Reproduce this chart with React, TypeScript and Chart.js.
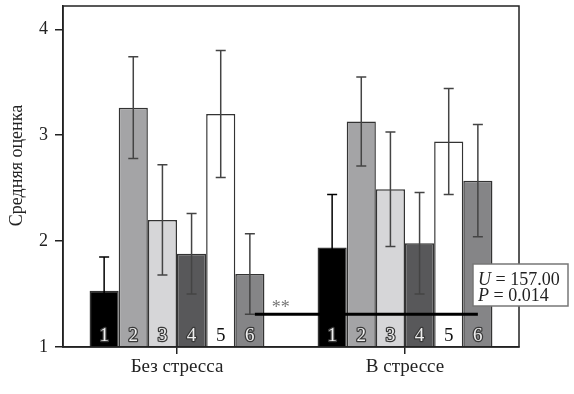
import React, { useEffect, useRef } from 'react';
import { Chart, registerables } from 'chart.js';
Chart.register(...registerables);

const categories = ['Без стресса', 'В стрессе'];
const seriesLabels = ['1', '2', '3', '4', '5', '6'];
const series1 = [1.53, 1.94];
const series2 = [3.26, 3.13];
const series3 = [2.2, 2.49];
const series4 = [1.88, 1.98];
const series5 = [3.2, 2.94];
const series6 = [1.69, 2.57];
const err1 = [0.32, 0.5];
const err2 = [0.48, 0.42];
const err3 = [0.52, 0.54];
const err4 = [0.38, 0.48];
const err5 = [0.6, 0.5];
const err6 = [0.38, 0.53];
const yTicks = [1, 2, 3, 4];
const yTitle = 'Средняя оценка';
const statU = '157.00';
const statP = '0.014';
const sigLevel = 1.31;
const sigMark = '**';

const allValues = [series1, series2, series3, series4, series5, series6];
const allErrors = [err1, err2, err3, err4, err5, err6];
const colors = ['#000000', '#a4a4a6', '#d6d6d8', '#58585a', '#ffffff', '#858587'];
const FONT = '"Liberation Serif", "DejaVu Serif", serif';

const overlay = {
  id: 'overlay',
  afterDatasetsDraw(chart: any) {
    const { ctx, scales } = chart;
    const y = scales.y;
    ctx.save();
    ctx.font = `19px ${FONT}`;
    ctx.textAlign = 'center';
    ctx.textBaseline = 'alphabetic';
    ctx.lineJoin = 'round';
    for (let d = 0; d < allValues.length; d++) {
      const meta = chart.getDatasetMeta(d);
      meta.data.forEach((bar: any) => {
        const bx = bar.x;
        const by = y.bottom - 6;
        if (d === 4) {
          ctx.fillStyle = '#111';
          ctx.fillText(seriesLabels[d], bx, by);
        } else {
          ctx.strokeStyle = '#3a3a3a';
          ctx.lineWidth = 2.5;
          ctx.strokeText(seriesLabels[d], bx, by);
          ctx.fillStyle = '#eeeeee';
          ctx.fillText(seriesLabels[d], bx, by);
        }
      });
    }
    for (let d = 0; d < allValues.length; d++) {
      const meta = chart.getDatasetMeta(d);
      ctx.strokeStyle = d === 0 ? '#000' : '#444';
      ctx.lineWidth = 1.5;
      meta.data.forEach((bar: any, i: number) => {
        const v = allValues[d][i];
        const e = allErrors[d][i];
        const yt = y.getPixelForValue(v + e);
        const yb = y.getPixelForValue(v - e);
        ctx.beginPath();
        ctx.moveTo(bar.x, yt);
        ctx.lineTo(bar.x, yb);
        ctx.moveTo(bar.x - 5, yt);
        ctx.lineTo(bar.x + 5, yt);
        ctx.moveTo(bar.x - 5, yb);
        ctx.lineTo(bar.x + 5, yb);
        ctx.stroke();
      });
    }
    const m6 = chart.getDatasetMeta(5);
    const x0 = m6.data[0].x + 5;
    const x1 = m6.data[1].x;
    const ys = y.getPixelForValue(sigLevel);
    ctx.strokeStyle = '#000';
    ctx.lineWidth = 3;
    ctx.beginPath();
    ctx.moveTo(x0, ys);
    ctx.lineTo(x1, ys);
    ctx.stroke();
    ctx.fillStyle = '#777';
    ctx.font = `18px ${FONT}`;
    ctx.textAlign = 'left';
    ctx.fillText(sigMark, x0 + 17, ys - 1);
    ctx.restore();
  },
  afterDraw(chart: any) {
    const { ctx, chartArea } = chart;
    const { left, top, right, bottom } = chartArea;
    ctx.save();
    ctx.strokeStyle = '#222';
    ctx.lineWidth = 1.5;
    ctx.strokeRect(left, top, right - left, bottom - top);
    const bx = right - 46;
    const by = bottom - 83;
    const bw = 95;
    const bh = 42;
    ctx.fillStyle = '#fff';
    ctx.fillRect(bx, by, bw, bh);
    ctx.strokeStyle = '#777';
    ctx.lineWidth = 1.5;
    ctx.strokeRect(bx, by, bw, bh);
    ctx.fillStyle = '#222';
    ctx.textAlign = 'left';
    ctx.textBaseline = 'alphabetic';
    ctx.font = `italic 18px ${FONT}`;
    const tx = bx + 5;
    ctx.fillText('U', tx, by + 21);
    const wu = ctx.measureText('U').width;
    ctx.fillText('P', tx, by + 37);
    const wp = ctx.measureText('P').width;
    ctx.font = `18px ${FONT}`;
    ctx.fillText(' = ' + statU, tx + wu, by + 21);
    ctx.fillText(' = ' + statP, tx + wp, by + 37);
    ctx.translate(17, (top + bottom) / 2 - 11);
    ctx.rotate(-Math.PI / 2);
    ctx.textAlign = 'center';
    ctx.textBaseline = 'middle';
    ctx.font = `18px ${FONT}`;
    ctx.fillText(yTitle, 0, 0);
    ctx.restore();
  },
};

export default function App() {
  const ref = useRef<HTMLCanvasElement>(null);
  useEffect(() => {
    if (!ref.current) return;
    const chart = new Chart(ref.current, {
      type: 'bar',
      data: {
        labels: categories,
        datasets: allValues.map((vals, i) => ({
          label: seriesLabels[i],
          data: vals,
          backgroundColor: colors[i],
          borderColor: '#333',
          borderWidth: 1.5,
          base: 1,
        })),
      },
      options: {
        animation: false,
        responsive: false,
        events: [],
        layout: { padding: { left: 0, top: 6, right: 55, bottom: 0 } },
        datasets: { bar: { categoryPercentage: 0.767, barPercentage: 1 } },
        plugins: { legend: { display: false }, tooltip: { enabled: false } },
        scales: {
          x: {
            type: 'category',
            grid: { drawOnChartArea: false, offset: false, tickLength: 7, color: '#222', lineWidth: 1.5 },
            border: { display: true, color: '#222', width: 1.5 },
            ticks: { color: '#222', font: { family: FONT, size: 19 }, padding: 2 },
            afterFit: (s: any) => { s.height = 47; s.paddingLeft = 0; s.paddingRight = 0; },
          },
          y: {
            min: 1,
            max: 4.22,
            grid: { drawOnChartArea: false, tickLength: 8, color: '#222', lineWidth: 1.5 },
            border: { display: true, color: '#222', width: 1.5 },
            ticks: { color: '#222', font: { family: FONT, size: 18 }, padding: 7 },
            afterBuildTicks: (s: any) => { s.ticks = yTicks.map((v) => ({ value: v })); },
            afterFit: (s: any) => { s.width = 63; s.paddingTop = 0; s.paddingBottom = 0; },
          },
        },
      },
      plugins: [overlay],
    } as any);
    return () => chart.destroy();
  }, []);
  return (
    <div style={{ position: 'absolute', left: 0, top: 0, width: 574, height: 394, background: '#fff' }}>
      <canvas ref={ref} width={574} height={394} style={{ display: 'block' }} />
    </div>
  );
}
